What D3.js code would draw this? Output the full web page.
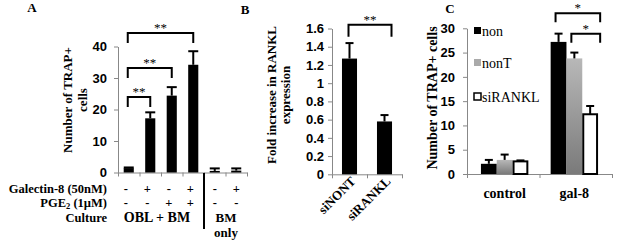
<!DOCTYPE html>
<html>
<head>
<meta charset="utf-8">
<script src="https://cdn.jsdelivr.net/npm/d3@7"></script>
<style>
  body{margin:0;background:#fff;}
  svg{display:block;font-family:"Liberation Serif","DejaVu Serif",serif;}
  text{fill:#000;}
  .tick text{font-weight:bold;font-size:13px;fill:#000;}
  .domain,.tick line{stroke:#888;}
</style>
</head>
<body>
<svg id="chart" width="617" height="240"></svg>
<script>
// panel A
const catsA=["c1","c2","c3","c4","c5","c6"];
const valsA=[1.4,17.2,24.4,34.2,0.5,0.6];
const errA=[1.6,19.1,27.1,38.5,1.3,1.3];
const galRow=["-","+","-","+","-","+"];
const pgeRow=["-","-","+","+","-","-"];
const bracketsA=[{a:0,b:1,y:24,lab:"**"},{a:0,b:2,y:33.2,lab:"**"},{a:0,b:3,y:44.3,lab:"**"}];
const ticksA=[0,10,20,30,40];

// panel B
const catsB=["siNONT","siRANKL"];
const valsB=[1.27,0.58];
const errB=[1.44,0.65];
const ticksB=[0,0.2,0.4,0.6,0.8,1,1.2,1.4,1.6];
const bracketB={a:0,b:1,y:1.64,lab:"**"};

// panel C
const catsC=["control","gal-8"];
const seriesC=["non","nonT","siRANKL"];
const valsC=[[2.1,2.9,2.6],[27.2,23.8,12.3]];
const errC=[[2.9,4.0,2.8],[28.9,25.0,14.0]];
const ticksC=[0,5,10,15,20,25,30];
const bracketsC=[{g:1,a:0,b:2,y:33.1,lab:"*"},{g:1,a:1,b:2,y:28.9,lab:"*"}];

const svg=d3.select("#chart");
const defs=svg.append("defs");
const grad=defs.append("linearGradient").attr("id","grayGrad").attr("x1",0).attr("y1",0).attr("x2",0).attr("y2",1);
grad.append("stop").attr("offset","0%").attr("stop-color","#b8b8b8");
grad.append("stop").attr("offset","100%").attr("stop-color","#7a7a7a");

function bracket(g,x1,x2,y,leg,lab){
  g.append("path")
    .attr("d",`M${x1},${y+leg}V${y}H${x2}V${y+leg}`)
    .attr("fill","none").attr("stroke","#000").attr("stroke-width",2);
  g.append("text").attr("x",(x1+x2)/2).attr("y",y-1)
    .attr("text-anchor","middle").attr("font-size",13).attr("fill","#000").text(lab);
}

function errBar(g,x,y0,y1,cap){
  g.append("line").attr("x1",x).attr("x2",x).attr("y1",y0).attr("y2",y1)
    .attr("stroke","#000").attr("stroke-width",2);
  g.append("line").attr("x1",x-cap/2).attr("x2",x+cap/2).attr("y1",y1).attr("y2",y1)
    .attr("stroke","#000").attr("stroke-width",2);
}

function bottomAxis(g,n,r0,r1,y){
  const s=d3.scaleLinear().domain([0,n]).range([r0,r1]);
  g.append("g").attr("transform",`translate(0,${y})`)
    .call(d3.axisBottom(s).tickValues(d3.range(n+1)).tickSize(4).tickSizeOuter(0).tickFormat(""));
}

// ---------- A ----------
{
  const g=svg.append("g");
  const y=d3.scaleLinear().domain([0,40]).range([172.5,46.5]);
  const x=d3.scaleBand().domain(catsA).range([118,247]).paddingInner(0.53).paddingOuter(0.265);
  g.append("g").attr("transform","translate(118,0)")
    .call(d3.axisLeft(y).tickValues(ticksA).tickSize(4).tickPadding(7).tickSizeOuter(0));
  bottomAxis(g,catsA.length,118,247,172.5);
  catsA.forEach((c,i)=>{
    g.append("rect").attr("x",x(c)).attr("width",x.bandwidth())
      .attr("y",y(valsA[i])).attr("height",y(0)-y(valsA[i])).attr("fill","#000");
    errBar(g,x(c)+x.bandwidth()/2,y(valsA[i]),y(errA[i]),10);
  });
  bracketsA.forEach(b=>{
    bracket(g,x(catsA[b.a])+x.bandwidth()/2-1,x(catsA[b.b])+x.bandwidth()/2,y(b.y),10,b.lab);
  });
  const t=g.append("g").attr("font-weight","bold").attr("font-size",12.5);
  t.append("text").attr("x",107).attr("y",192.5).attr("text-anchor","end").text("Galectin-8 (50nM)");
  const p=t.append("text").attr("x",107).attr("y",207).attr("text-anchor","end");
  p.append("tspan").text("PGE");
  p.append("tspan").attr("font-size",8.5).attr("dy",2).text("2");
  p.append("tspan").attr("dy",-2).text(" (1\u00b5M)");
  t.append("text").attr("x",107).attr("y",222).attr("text-anchor","end").text("Culture");
  catsA.forEach((c,i)=>{
    const cx=x(c)+x.bandwidth()/2-(i<4?3:0);
    t.append("text").attr("x",cx).attr("y",192.5).attr("text-anchor","middle").text(galRow[i]);
    t.append("text").attr("x",cx).attr("y",207).attr("text-anchor","middle").text(pgeRow[i]);
  });
  t.append("text").attr("x",157).attr("y",222).attr("text-anchor","middle").attr("font-size",14).text("OBL + BM");
  t.append("text").attr("x",226).attr("y",222).attr("text-anchor","middle").attr("font-size",13).text("BM");
  t.append("text").attr("x",226).attr("y",237).attr("text-anchor","middle").attr("font-size",13).text("only");
  g.append("line").attr("x1",x(catsA[4])-5.7).attr("x2",x(catsA[4])-5.7).attr("y1",173).attr("y2",229)
    .attr("stroke","#000").attr("stroke-width",2);
  const yl=g.append("text").attr("transform","translate(72,100) rotate(-90)")
    .attr("text-anchor","middle").attr("font-weight","bold").attr("font-size",13);
  yl.append("tspan").attr("x",0).attr("dy",0).text("Number of TRAP+");
  yl.append("tspan").attr("x",0).attr("dy",15).text("cells");
  g.append("text").attr("x",32).attr("y",12).attr("text-anchor","middle").attr("font-weight","bold").attr("font-size",13).text("A");
}

// ---------- B ----------
{
  const g=svg.append("g");
  const y=d3.scaleLinear().domain([0,1.6]).range([174.3,28.5]);
  const x=d3.scaleBand().domain(catsB).range([332,402]).paddingInner(0.57).paddingOuter(0.285);
  g.append("g").attr("transform","translate(332,0)")
    .call(d3.axisLeft(y).tickValues(ticksB).tickFormat(d3.format("~g")).tickSize(4).tickPadding(4).tickSizeOuter(0));
  bottomAxis(g,catsB.length,332,402,174.3);
  catsB.forEach((c,i)=>{
    g.append("rect").attr("x",x(c)).attr("width",x.bandwidth())
      .attr("y",y(valsB[i])).attr("height",y(0)-y(valsB[i])).attr("fill","#000");
    errBar(g,x(c)+x.bandwidth()/2,y(valsB[i]),y(errB[i]),8);
    g.append("text")
      .attr("transform",`translate(${x(c)+x.bandwidth()/2+7},182) rotate(-45)`)
      .attr("text-anchor","end").attr("font-weight","bold").attr("font-size",13).text(c);
  });
  bracket(g,x(catsB[bracketB.a])+x.bandwidth()/2-1,x(catsB[bracketB.b])+x.bandwidth()/2+7,y(bracketB.y),12,bracketB.lab);
  const yl=g.append("text").attr("transform","translate(276,95) rotate(-90)")
    .attr("text-anchor","middle").attr("font-weight","bold").attr("font-size",13);
  yl.append("tspan").attr("x",0).attr("dy",0).text("Fold increase in RANKL");
  yl.append("tspan").attr("x",0).attr("dy",14).text("expression");
  g.append("text").attr("x",245).attr("y",14).attr("text-anchor","middle").attr("font-weight","bold").attr("font-size",13).text("B");
}

// ---------- C ----------
{
  const g=svg.append("g");
  const y=d3.scaleLinear().domain([0,30]).range([174,28.3]);
  const x=d3.scaleBand().domain(catsC).range([467,612]).paddingInner(0.32).paddingOuter(0.2);
  const xs=d3.scaleBand().domain(seriesC).range([0,x.bandwidth()]);
  const fills=["#000","url(#grayGrad)","#fff"];
  g.append("g").attr("transform","translate(467,0)")
    .call(d3.axisLeft(y).tickValues(ticksC).tickSize(4).tickPadding(8).tickSizeOuter(0));
  bottomAxis(g,catsC.length,467,612,174);
  catsC.forEach((c,gi)=>{
    seriesC.forEach((s,si)=>{
      const bx=x(c)+xs(s);
      const v=valsC[gi][si];
      g.append("rect").attr("x",bx+(si==2?1:0)).attr("width",xs.bandwidth()-(si==2?2:0))
        .attr("y",y(v)).attr("height",y(0)-y(v)).attr("fill",fills[si])
        .attr("stroke",si==2?"#000":"none").attr("stroke-width",2);
      errBar(g,bx+xs.bandwidth()/2,y(v),y(errC[gi][si]),8);
    });
    g.append("text").attr("x",x(c)+x.bandwidth()/2).attr("y",198).attr("text-anchor","middle")
      .attr("font-weight","bold").attr("font-size",14).text(c);
  });
  bracketsC.forEach(b=>{
    const xa=x(catsC[b.g])+xs(seriesC[b.a])+xs.bandwidth()/2-3;
    const xb=x(catsC[b.g])+xs(seriesC[b.b])+xs.bandwidth()/2+10;
    bracket(g,xa,xb,y(b.y),9,b.lab);
  });
  const legY=[31,63,97];
  const legFill=["#000","#aaa","#fff"];
  seriesC.forEach((s,i)=>{
    g.append("rect").attr("x",474).attr("y",legY[i]-4).attr("width",7).attr("height",7)
      .attr("fill",legFill[i]).attr("stroke",i==2?"#000":"none").attr("stroke-width",1.5);
    g.append("text").attr("x",482).attr("y",legY[i]+5).attr("font-size",14).text(s);
  });
  g.append("text").attr("transform","translate(437,98) rotate(-90)")
    .attr("text-anchor","middle").attr("font-weight","bold").attr("font-size",14).text("Number of TRAP+ cells");
  g.append("text").attr("x",450).attr("y",13).attr("text-anchor","middle").attr("font-weight","bold").attr("font-size",13).text("C");
}
</script>
</body>
</html>
